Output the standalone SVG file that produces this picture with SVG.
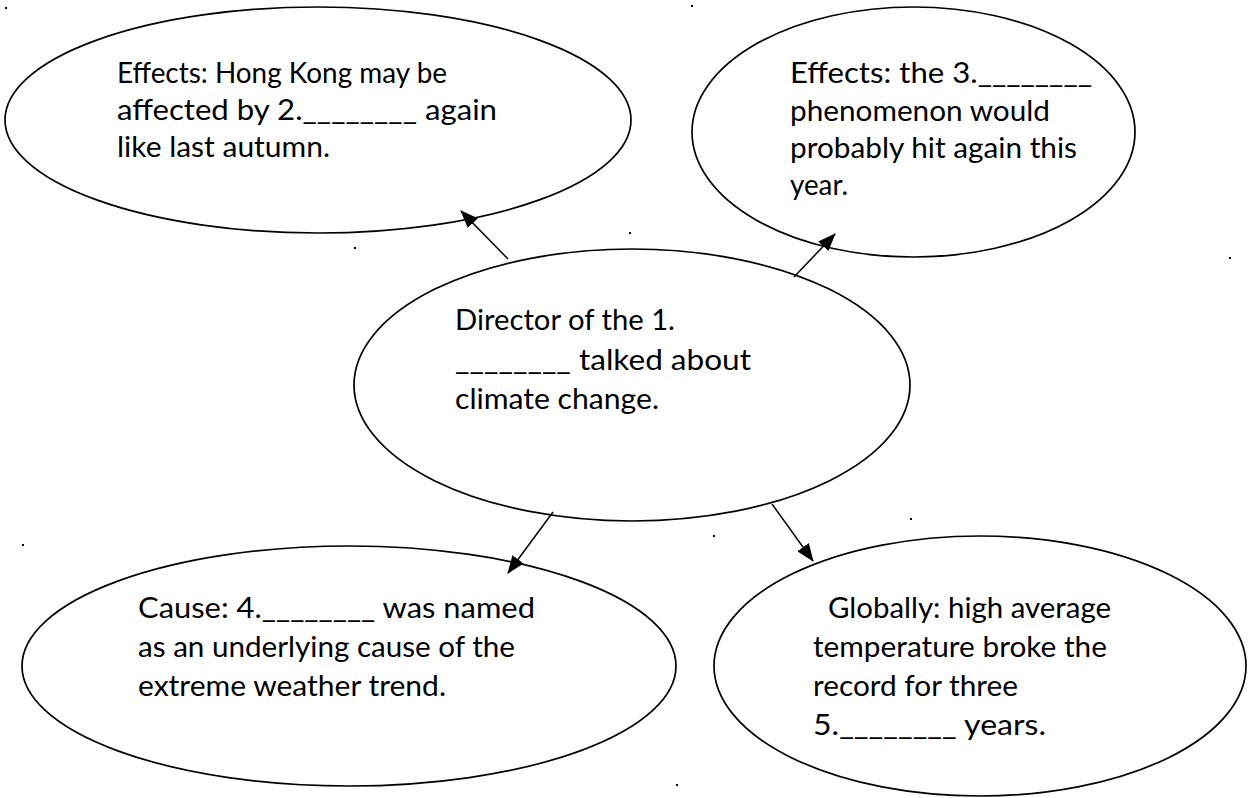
<svg xmlns="http://www.w3.org/2000/svg" width="1248" height="798" viewBox="0 0 1248 798">
<style>
.node ellipse{fill:none;stroke:#000;stroke-width:1.7}
.node text{font-family:Lato,"Open Sans",sans-serif;font-size:29px;fill:#000}
.edge line{stroke:#000;stroke-width:1.5}
.dot{fill:#000}
</style>
<defs>
<marker id="arr" viewBox="0 0 18 14" refX="17" refY="7" markerWidth="18" markerHeight="14" markerUnits="userSpaceOnUse" orient="auto">
<path d="M0,0 L18,7 L0,14 z" fill="#000"/>
</marker>
</defs>
<rect width="1248" height="798" fill="#fff"/>
<g id="node-effects-hk" class="node">
<ellipse cx="318" cy="120" rx="313" ry="113"/>
<text x="117" y="83" textLength="330" lengthAdjust="spacingAndGlyphs">Effects: Hong Kong may be</text>
<text x="117" y="120" textLength="380" lengthAdjust="spacingAndGlyphs">affected by 2.________ again</text>
<text x="117" y="157" textLength="213" lengthAdjust="spacingAndGlyphs">like last autumn.</text>
</g>
<g id="node-effects-phenomenon" class="node">
<ellipse cx="913.5" cy="132" rx="221.5" ry="125"/>
<text x="790" y="83" textLength="302" lengthAdjust="spacingAndGlyphs">Effects: the 3.________</text>
<text x="790" y="121" textLength="260" lengthAdjust="spacingAndGlyphs">phenomenon would</text>
<text x="790" y="158" textLength="287" lengthAdjust="spacingAndGlyphs">probably hit again this</text>
<text x="790" y="195" textLength="58" lengthAdjust="spacingAndGlyphs">year.</text>
</g>
<g id="node-director" class="node">
<ellipse cx="632" cy="385" rx="278" ry="136"/>
<text x="455" y="330" textLength="220" lengthAdjust="spacingAndGlyphs">Director of the 1.</text>
<text x="455" y="370" textLength="296" lengthAdjust="spacingAndGlyphs">________ talked about</text>
<text x="455" y="409" textLength="204" lengthAdjust="spacingAndGlyphs">climate change.</text>
</g>
<g id="node-cause" class="node">
<ellipse cx="349" cy="666" rx="327" ry="120"/>
<text x="138" y="618" textLength="397" lengthAdjust="spacingAndGlyphs">Cause: 4.________ was named</text>
<text x="138" y="657" textLength="377" lengthAdjust="spacingAndGlyphs">as an underlying cause of the</text>
<text x="138" y="696" textLength="308" lengthAdjust="spacingAndGlyphs">extreme weather trend.</text>
</g>
<g id="node-globally" class="node">
<ellipse cx="980" cy="666" rx="266" ry="130"/>
<text x="828" y="618" textLength="283" lengthAdjust="spacingAndGlyphs">Globally: high average</text>
<text x="813" y="657" textLength="294" lengthAdjust="spacingAndGlyphs">temperature broke the</text>
<text x="813" y="696" textLength="205" lengthAdjust="spacingAndGlyphs">record for three</text>
<text x="813" y="735" textLength="233" lengthAdjust="spacingAndGlyphs">5.________ years.</text>
</g>
<g id="connectors" class="edge">
<line x1="508" y1="259" x2="461" y2="211" marker-end="url(#arr)"/>
<line x1="794" y1="277" x2="835" y2="234" marker-end="url(#arr)"/>
<line x1="553" y1="512" x2="508" y2="573" marker-end="url(#arr)"/>
<line x1="772" y1="504" x2="813" y2="561" marker-end="url(#arr)"/>
</g>
<g id="dots">
<rect class="dot" x="5" y="7" width="2" height="2"/>
<rect class="dot" x="691" y="5" width="2" height="2"/>
<rect class="dot" x="354" y="247" width="2" height="2"/>
<rect class="dot" x="629" y="232" width="2" height="2"/>
<rect class="dot" x="1229" y="257" width="2" height="2"/>
<rect class="dot" x="22" y="544" width="2" height="2"/>
<rect class="dot" x="713" y="535" width="2" height="2"/>
<rect class="dot" x="910" y="518" width="2" height="2"/>
<rect class="dot" x="676" y="784" width="2" height="2"/>
</g>
</svg>
